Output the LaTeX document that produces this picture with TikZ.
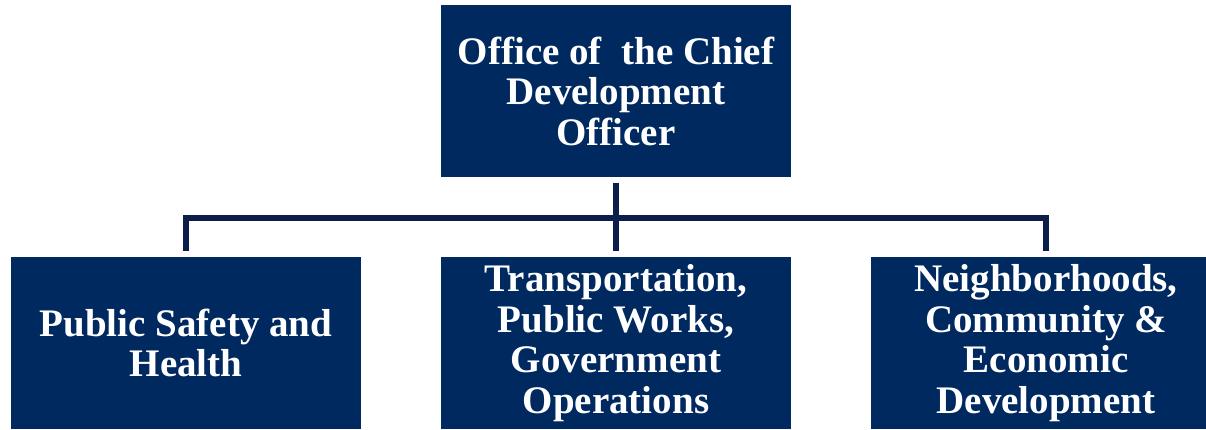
\documentclass[tikz,border=0pt]{standalone}
\usepackage{fontspec}
\setmainfont{Liberation Serif}
\definecolor{boxblue}{RGB}{0,41,96}
\definecolor{linenavy}{RGB}{12,30,74}
\begin{document}
\begin{tikzpicture}[x=1pt,y=1pt,
  orgbox/.style={rectangle, fill=boxblue, draw=none, minimum width=350pt, minimum height=172pt,
    inner sep=0pt, align=center, text=white, font=\fontsize{39}{40.5}\selectfont\bfseries},
  conn/.style={draw=linenavy, line width=6pt}]
\path[use as bounding box] (0,0) rectangle (1206,-429);
\clip (0,0) rectangle (1206,-429);
\node[orgbox] (top) at (616,-91) {Office of\ \ the Chief\\Development\\Officer};
\node[orgbox] (left) at (186,-343) {Public Safety and\\Health};
\node[orgbox] (mid) at (616,-343) {Transportation,\\Public Works,\\Government\\Operations};
\node[orgbox] (right) at (1046,-343) {Neighborhoods,\\Community \&\\Economic\\Development};
\coordinate (bar) at (616,-217.5);
\draw[conn] ([yshift=-6pt]top.south) -- ([yshift=6pt]mid.north);
\draw[conn] ([yshift=6pt]left.north) |- (bar) -| ([yshift=6pt]right.north);
\end{tikzpicture}
\end{document}
